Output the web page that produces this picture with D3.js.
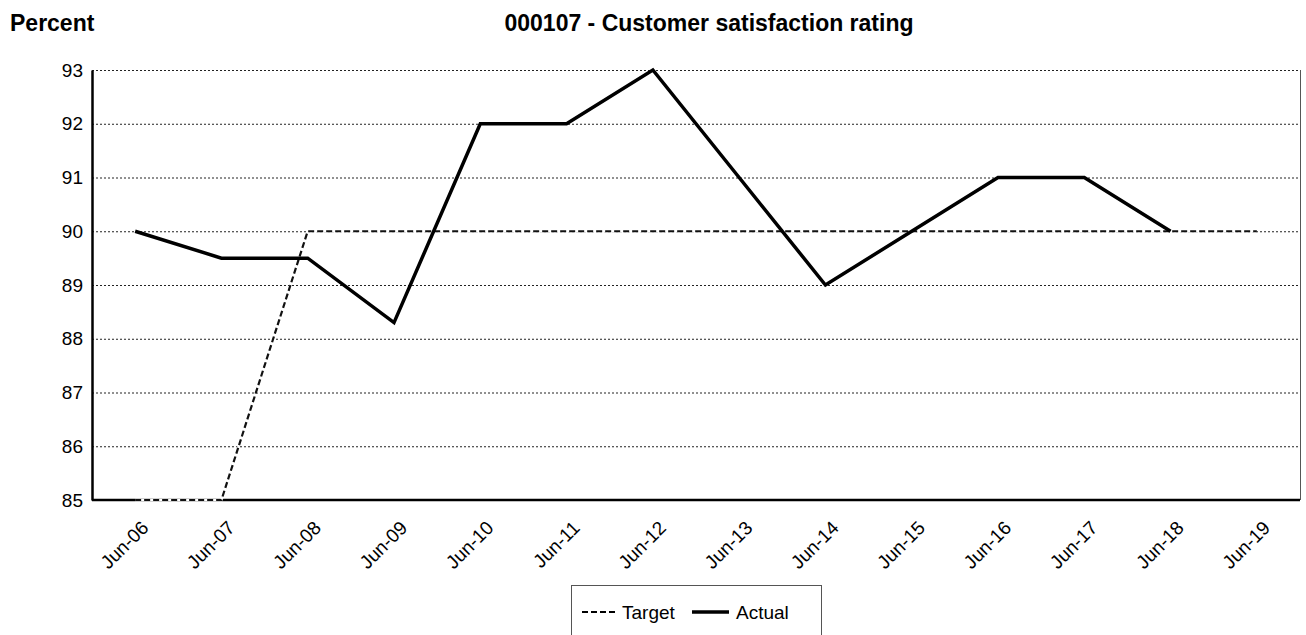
<!DOCTYPE html>
<html>
<head>
<meta charset="utf-8">
<script src="https://cdn.jsdelivr.net/npm/d3@7"></script>
<style>
  body { margin: 0; background: #fff; }
  svg { display: block; font-family: Arial, "Liberation Sans", sans-serif; }
</style>
</head>
<body>
<svg id="chart"></svg>
<script>
const categories = ['Jun-06', 'Jun-07', 'Jun-08', 'Jun-09', 'Jun-10', 'Jun-11', 'Jun-12',
  'Jun-13', 'Jun-14', 'Jun-15', 'Jun-16', 'Jun-17', 'Jun-18', 'Jun-19']
const target = [85, 85, 90, 90, 90, 90, 90, 90, 90, 90, 90, 90, 90, 90]
const actual = [90, 89.5, 89.5, 88.3, 92, 92, 93, 91, 89, 90, 91, 91, 90, null]
const yTicks = [85, 86, 87, 88, 89, 90, 91, 92, 93]

const svgWidth = 1306
const svgHeight = 635
const margin = { top: 70, right: 6, bottom: 135, left: 92 }
const width = svgWidth - margin.left - margin.right
const height = svgHeight - margin.top - margin.bottom
const font = 'Arial, "Liberation Sans", sans-serif'

const svg = d3.select('#chart')
  .attr('width', svgWidth)
  .attr('height', svgHeight)

// titles
svg.append('text')
  .attr('x', 10).attr('y', 31)
  .attr('font-size', 23).attr('font-weight', 'bold')
  .text('Percent')
svg.append('text')
  .attr('x', 709).attr('y', 31)
  .attr('text-anchor', 'middle')
  .attr('font-size', 23).attr('font-weight', 'bold')
  .text('000107 - Customer satisfaction rating')

const g = svg.append('g')
  .attr('transform', `translate(${margin.left}, ${margin.top})`)

const x = d3.scalePoint().domain(categories).range([0, width]).padding(0.5)
const y = d3.scaleLinear().domain([85, 93]).range([height, 0])

// gridlines
g.append('g')
  .selectAll('line')
  .data(yTicks.filter(d => d !== 85))
  .join('line')
  .attr('x1', 0).attr('x2', width)
  .attr('y1', d => y(d) + 0.5).attr('y2', d => y(d) + 0.5)
  .attr('stroke', '#222')
  .attr('stroke-width', 1)
  .attr('stroke-dasharray', '2,2')

// right border
g.append('line')
  .attr('x1', width + 0.5).attr('x2', width + 0.5)
  .attr('y1', 0).attr('y2', height)
  .attr('stroke', '#555').attr('stroke-width', 1)

// y axis
const yAxis = d3.axisLeft(y).tickValues(yTicks).tickSize(0).tickPadding(9)
const yg = g.append('g').call(yAxis)
yg.select('.domain').attr('stroke', '#000').attr('stroke-width', 2.5)
yg.selectAll('text').attr('font-size', 19).attr('fill', '#000')
  .attr('font-family', font)

// x axis
const xAxis = d3.axisBottom(x).tickSize(0).tickPadding(0)
const xg = g.append('g')
  .attr('transform', `translate(0, ${height})`)
  .call(xAxis)
xg.select('.domain').attr('stroke', '#000').attr('stroke-width', 2.5)
  .attr('d', `M0,0H${width}`)
xg.selectAll('text')
  .attr('font-size', 19).attr('fill', '#000')
  .attr('font-family', font)
  .attr('text-anchor', 'end')
  .attr('dy', null)
  .attr('y', 0)
  .attr('transform', 'translate(14, 29) rotate(-45)')

const line = d3.line()
  .defined(d => d.value != null)
  .x(d => x(d.cat))
  .y(d => y(d.value))

const targetData = categories.map((c, i) => ({ cat: c, value: target[i] }))
const actualData = categories.map((c, i) => ({ cat: c, value: actual[i] }))

// white under-stroke so the dashes show over the axis line
g.append('path')
  .datum(targetData)
  .attr('fill', 'none')
  .attr('stroke', '#fff')
  .attr('stroke-width', 2.5)
  .attr('d', line)

g.append('path')
  .datum(targetData)
  .attr('fill', 'none')
  .attr('stroke', '#111')
  .attr('stroke-width', 2.2)
  .attr('stroke-dasharray', '6,3')
  .attr('d', line)

g.append('path')
  .datum(actualData)
  .attr('fill', 'none')
  .attr('stroke', '#000')
  .attr('stroke-width', 3.5)
  .attr('stroke-linejoin', 'miter')
  .attr('d', line)

// legend
const lg = svg.append('g').attr('transform', 'translate(571, 585)')
lg.append('rect')
  .attr('x', 0.5).attr('y', 0.5)
  .attr('width', 250).attr('height', 60)
  .attr('fill', '#fff').attr('stroke', '#555').attr('stroke-width', 1)
lg.append('line')
  .attr('x1', 11).attr('x2', 47).attr('y1', 27).attr('y2', 27)
  .attr('stroke', '#000').attr('stroke-width', 2.2).attr('stroke-dasharray', '6,3')
lg.append('text')
  .attr('x', 51).attr('y', 34).attr('font-size', 19).text('Target')
lg.append('line')
  .attr('x1', 121).attr('x2', 158).attr('y1', 27).attr('y2', 27)
  .attr('stroke', '#000').attr('stroke-width', 3.5)
lg.append('text')
  .attr('x', 165).attr('y', 34).attr('font-size', 19).text('Actual')
</script>
</body>
</html>
